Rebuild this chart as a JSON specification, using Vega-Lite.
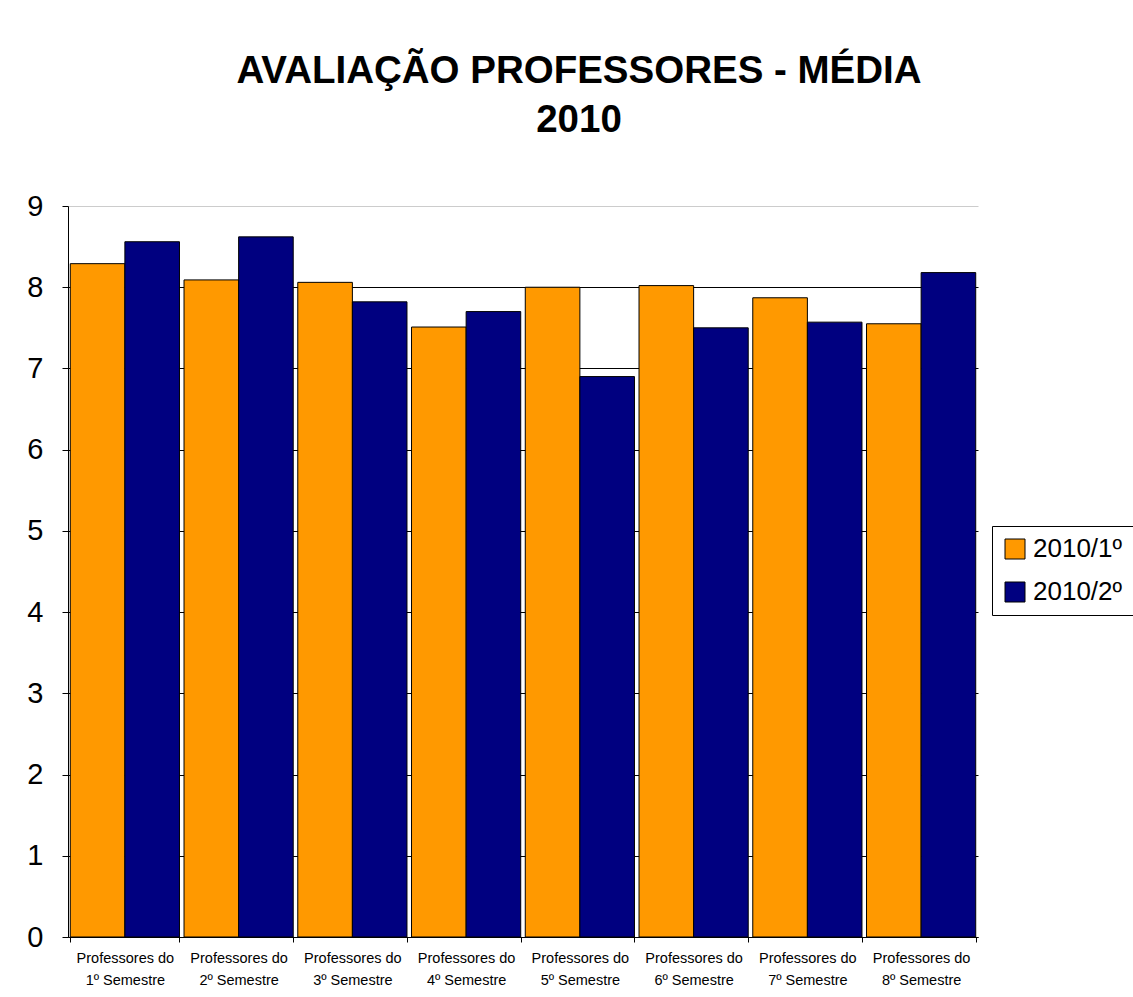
{
  "$schema": "https://vega.github.io/schema/vega-lite/v6.json",
  "autosize": "none",
  "width": 910,
  "height": 731,
  "padding": {"left": 68, "top": 206, "right": 155, "bottom": 60},
  "background": "white",
  "title": {
    "text": ["AVALIAÇÃO PROFESSORES - MÉDIA", "2010"],
    "font": "Liberation Sans",
    "fontSize": 38.5,
    "fontWeight": "bold",
    "color": "black",
    "lineHeight": 49,
    "anchor": "middle",
    "dx": 56,
    "offset": 52
  },
  "data": {
    "values": [
      {"categoria": "Professores do 1º Semestre", "periodo": "2010/1º", "media": 8.29},
      {"categoria": "Professores do 1º Semestre", "periodo": "2010/2º", "media": 8.56},
      {"categoria": "Professores do 2º Semestre", "periodo": "2010/1º", "media": 8.09},
      {"categoria": "Professores do 2º Semestre", "periodo": "2010/2º", "media": 8.62},
      {"categoria": "Professores do 3º Semestre", "periodo": "2010/1º", "media": 8.06},
      {"categoria": "Professores do 3º Semestre", "periodo": "2010/2º", "media": 7.82},
      {"categoria": "Professores do 4º Semestre", "periodo": "2010/1º", "media": 7.51},
      {"categoria": "Professores do 4º Semestre", "periodo": "2010/2º", "media": 7.70},
      {"categoria": "Professores do 5º Semestre", "periodo": "2010/1º", "media": 8.00},
      {"categoria": "Professores do 5º Semestre", "periodo": "2010/2º", "media": 6.90},
      {"categoria": "Professores do 6º Semestre", "periodo": "2010/1º", "media": 8.02},
      {"categoria": "Professores do 6º Semestre", "periodo": "2010/2º", "media": 7.50},
      {"categoria": "Professores do 7º Semestre", "periodo": "2010/1º", "media": 7.87},
      {"categoria": "Professores do 7º Semestre", "periodo": "2010/2º", "media": 7.57},
      {"categoria": "Professores do 8º Semestre", "periodo": "2010/1º", "media": 7.55},
      {"categoria": "Professores do 8º Semestre", "periodo": "2010/2º", "media": 8.18}
    ]
  },
  "mark": {"type": "bar", "stroke": "black", "strokeWidth": 1},
  "encoding": {
    "x": {
      "field": "categoria",
      "type": "nominal",
      "sort": null,
      "title": null,
      "scale": {"paddingInner": 0.04, "paddingOuter": 0.02},
      "axis": {
        "labelAngle": 0,
        "labelExpr": "datum.extra ? '' : ['Professores do', substring(datum.label, 15)]",
        "labelFont": "Liberation Sans",
        "labelFontSize": 14.5,
        "labelColor": "black",
        "labelLineHeight": 22,
        "labelPadding": 9,
        "labelFlush": false,
        "labelBound": false,
        "labelOverlap": false,
        "tickBand": "extent",
        "tickColor": "black",
        "tickSize": 5,
        "domainColor": "black",
        "grid": false
      }
    },
    "xOffset": {"field": "periodo", "type": "nominal", "scale": {"paddingInner": 0, "paddingOuter": 0}},
    "y": {
      "field": "media",
      "type": "quantitative",
      "title": null,
      "scale": {"domain": [0, 9], "nice": false},
      "axis": {
        "values": [0, 1, 2, 3, 4, 5, 6, 7, 8, 9],
        "labelFont": "Liberation Sans",
        "labelFontSize": 29,
        "labelColor": "black",
        "labelPadding": 19,
        "labelFlush": false,
        "labelOverlap": false,
        "tickColor": "black",
        "tickSize": 6,
        "domainColor": "black",
        "grid": true,
        "gridColor": {"condition": {"test": "datum.value === 9", "value": "#cccccc"}, "value": "black"},
        "gridOpacity": 1
      }
    },
    "color": {
      "field": "periodo",
      "type": "nominal",
      "title": null,
      "scale": {"domain": ["2010/1º", "2010/2º"], "range": ["#ff9900", "#000080"]},
      "legend": {
        "orient": "none",
        "legendX": 924,
        "legendY": 320,
        "strokeColor": "black",
        "padding": 10,
        "symbolType": "square",
        "symbolSize": 400,
        "symbolStrokeColor": "black",
        "symbolStrokeWidth": 1,
        "labelFont": "Liberation Sans",
        "labelFontSize": 26,
        "labelColor": "black",
        "labelOffset": 5,
        "rowPadding": 17,
        "fillColor": "white"
      }
    }
  },
  "config": {
    "view": {"stroke": null}
  }
}
